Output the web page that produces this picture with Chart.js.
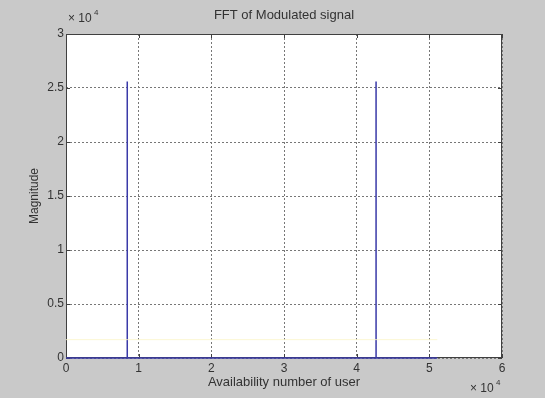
<!DOCTYPE html>
<html>
<head>
<meta charset="utf-8">
<script src="https://cdn.jsdelivr.net/npm/chart.js@4.4.0/dist/chart.umd.min.js"></script>
<style>
  html, body { margin: 0; padding: 0; background: #c9c9c9; }
  #wrap { width: 545px; height: 398px; position: relative; }
</style>
</head>
<body>
<div id="wrap"><canvas id="fftChart" width="545" height="398"></canvas></div>
<script>
// values (x in samples, y in magnitude)
const signalLength = 51100;
const spikeX = [8430, 42670];
const spikeHeight = [25600, 25600];
const faintLevel = 1700;
const xTicks = [0, 10000, 20000, 30000, 40000, 50000, 60000];
const yTicks = [0, 5000, 10000, 15000, 20000, 25000, 30000];
const chartTitle = 'FFT of Modulated signal';

// stem-like trace: baseline with two vertical spikes
const fftPoints = [{x: 0, y: 0}];
spikeX.forEach(function(sx, i) {
    fftPoints.push({x: sx, y: 0});
    fftPoints.push({x: sx, y: spikeHeight[i]});
    fftPoints.push({x: sx, y: 0});
});
fftPoints.push({x: signalLength, y: 0});

const faintPoints = [{x: 0, y: faintLevel}, {x: signalLength, y: faintLevel}];

const FONT = '"Liberation Sans", Arial, sans-serif';

const frame = {
    id: 'frame',
    beforeDraw(chart) {
        const {ctx, chartArea: a} = chart;
        ctx.save();
        ctx.fillStyle = '#ffffff';
        ctx.fillRect(a.left, a.top, a.right - a.left, a.bottom - a.top);
        ctx.restore();
    },
    beforeDatasetsDraw(chart) {
        const {ctx, chartArea: a} = chart;
        ctx.save();
        ctx.strokeStyle = '#404040';
        ctx.lineWidth = 1;
        ctx.strokeRect(a.left + 0.5, a.top + 0.5, a.right - a.left - 1, a.bottom - a.top - 1);
        // tick marks inside the box
        ctx.beginPath();
        xTicks.forEach(function(v) {
            const px = Math.round(chart.scales.x.getPixelForValue(v)) + 0.5;
            ctx.moveTo(px, a.bottom); ctx.lineTo(px, a.bottom - 4);
            ctx.moveTo(px, a.top); ctx.lineTo(px, a.top + 4);
        });
        yTicks.forEach(function(v) {
            const py = Math.round(chart.scales.y.getPixelForValue(v)) + 0.5;
            ctx.moveTo(a.left, py); ctx.lineTo(a.left + 4, py);
            ctx.moveTo(a.right, py); ctx.lineTo(a.right - 4, py);
        });
        ctx.stroke();
        ctx.restore();
    },
    afterDraw(chart) {
        const {ctx, chartArea: a} = chart;
        ctx.save();
        ctx.fillStyle = '#333333';
        ctx.textBaseline = 'alphabetic';
        // title centred over the plot box
        ctx.font = '13px ' + FONT;
        ctx.textAlign = 'center';
        ctx.fillText(chartTitle, (a.left + a.right) / 2, 19);
        // exponent labels
        ctx.font = '12px ' + FONT;
        ctx.textAlign = 'left';
        ctx.fillText('\u00d7 10', a.left + 2, 22);
        ctx.font = '8px ' + FONT;
        ctx.fillText('4', a.left + 28, 15);
        ctx.font = '12px ' + FONT;
        ctx.fillText('\u00d7 10', 470, 392);
        ctx.font = '8px ' + FONT;
        ctx.fillText('4', 496, 385);
        ctx.restore();
    }
};

const ctx = document.getElementById('fftChart').getContext('2d');
const chart = new Chart(ctx, {
    type: 'scatter',
    data: {
        datasets: [
            {
                label: 'faint',
                data: faintPoints,
                showLine: true,
                borderColor: 'rgba(250, 245, 200, 0.8)',
                borderWidth: 1,
                pointRadius: 0
            },
            {
                label: 'FFT',
                data: fftPoints,
                showLine: true,
                borderColor: '#3a3aa8',
                borderWidth: 1.5,
                pointRadius: 0,
                tension: 0,
                clip: false
            }
        ]
    },
    plugins: [frame],
    options: {
        responsive: false,
        animation: false,
        layout: { padding: { top: 34, right: 43, bottom: 0, left: 0 } },
        plugins: {
            legend: { display: false },
            tooltip: { enabled: false },
            title: { display: false }
        },
        scales: {
            x: {
                type: 'linear',
                min: 0,
                max: 60000,
                afterBuildTicks(scale) { scale.ticks = xTicks.map(v => ({value: v})); },
                afterFit(scale) { scale.height = 40; },
                ticks: {
                    color: '#333333',
                    font: { size: 12, family: FONT },
                    padding: 3,
                    maxRotation: 0,
                    callback: v => String(v / 10000)
                },
                grid: { color: '#777777', drawTicks: false, lineWidth: 1 },
                border: { display: false, dash: [2, 2] },
                title: {
                    display: true,
                    text: 'Availability number of user',
                    color: '#333333',
                    font: { size: 13, family: FONT },
                    padding: { top: 1, bottom: 8 }
                }
            },
            y: {
                type: 'linear',
                min: 0,
                max: 30000,
                afterBuildTicks(scale) { scale.ticks = yTicks.map(v => ({value: v})); },
                afterFit(scale) { scale.width = 66; },
                ticks: {
                    color: '#333333',
                    font: { size: 12, family: FONT },
                    padding: 2,
                    callback: v => String(v / 10000)
                },
                grid: { color: '#777777', drawTicks: false, lineWidth: 1 },
                border: { display: false, dash: [2, 2] },
                title: {
                    display: true,
                    text: 'Magnitude',
                    color: '#333333',
                    font: { size: 12, family: FONT },
                    padding: { top: 27, bottom: 0 }
                }
            }
        }
    }
});
</script>
</body>
</html>
